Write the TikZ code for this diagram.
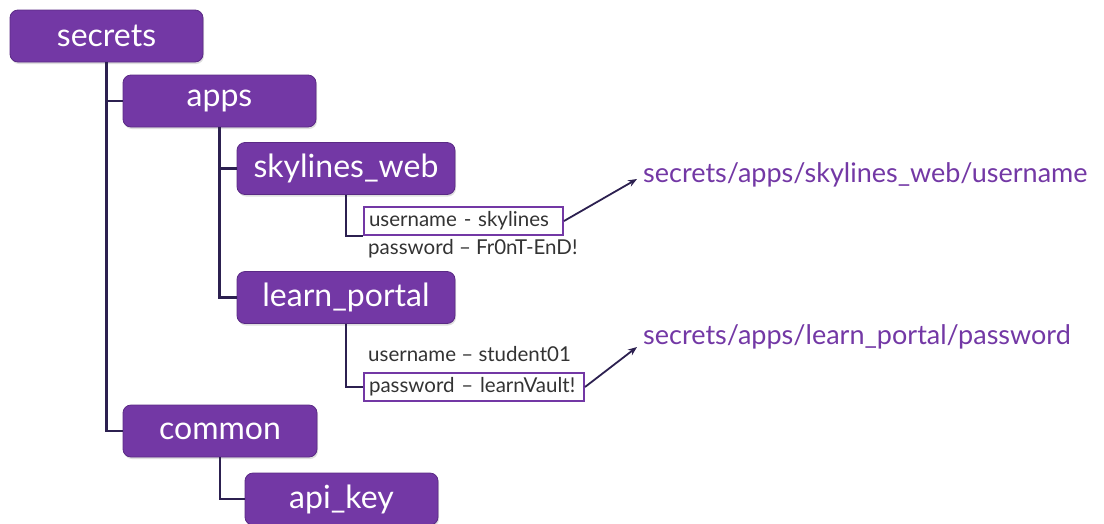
\documentclass[tikz,border=0pt]{standalone}
\usepackage{fontspec}
\setmainfont{Lato}
\usepackage{xcolor}
\usepackage{tikz}
\usetikzlibrary{calc,shadows,arrows.meta}

\definecolor{vaultpurple}{HTML}{7338A5}
\definecolor{vaultedge}{HTML}{5A2A85}
\definecolor{treeline}{HTML}{2C2050}

\tikzset{
  folder/.style={draw=vaultedge, fill=vaultpurple, rounded corners=8pt, text=white,
    font=\fontsize{32}{38}\selectfont, minimum height=52pt, inner sep=0pt, line width=0.8pt,
    drop shadow={opacity=0.25, shadow xshift=1pt, shadow yshift=-2pt}},
  entry/.style={anchor=west, inner xsep=5pt, inner ysep=0pt, minimum height=28pt,
    font=\fontsize{20.5}{24}\selectfont, text=black!80},
  picked/.style={draw=vaultpurple, line width=2pt, align=left},
  fullpath/.style={anchor=west, inner sep=0pt, text=vaultpurple, font=\fontsize{27}{32}\selectfont},
  tree/.style={draw=treeline, line width=2.2pt},
  pointer/.style={draw=treeline, line width=1.8pt, -{Stealth[length=9pt,width=7pt]}}
}

\begin{document}
\begin{tikzpicture}[x=1pt,y=-1pt]
\useasboundingbox (0,0) rectangle (1104,523);

% folders
\node[folder, minimum width=193pt] (secrets) at (106.5,36) {secrets};
\node[folder, minimum width=193pt] (apps) at (219.5,101) {apps};
\node[folder, minimum width=218pt] (skyweb) at (346,168.5) {skylines\_web};
\node[folder, minimum width=218pt] (lportal) at (346,297.5) {learn\_portal};
\node[folder, minimum width=194pt] (common) at (220,431) {common};
\node[folder, minimum width=193pt] (apikey) at (341.5,499) {api\_key};

% key/value entries
\node[entry, picked, text width=189pt] (skyuser) at (363,221) {username - skylines};
\node[entry] (skypass) at (363,249) {password – Fr0nT-EnD!};
\node[entry] (lpuser) at (363,354) {username – student01};
\node[entry, picked, text width=210pt] (lppass) at (363,387) {password – learnVault!};

% resulting paths
\node[fullpath] (path1) at (643,175) {secrets/apps/skylines\_web/username};
\node[fullpath] (path2) at (643,337) {secrets/apps/learn\_portal/password};

\draw[tree] (secrets.south) |- (apps.west);
\draw[tree] (secrets.south) |- (common.west);
\draw[tree] (apps.south) |- (skyweb.west);
\draw[tree] (apps.south) |- (lportal.west);
\draw[tree] (skyweb.south) |- (skyuser.south west);
\draw[tree] (lportal.south) |- (lppass.west);
\draw[tree] (common.south) |- (apikey.west);

\draw[pointer] (skyuser.east) -- ([xshift=-6pt,yshift=-4pt]path1.west);
\draw[pointer] (lppass.east) -- ([xshift=-6pt,yshift=-10pt]path2.west);
\end{tikzpicture}
\end{document}
